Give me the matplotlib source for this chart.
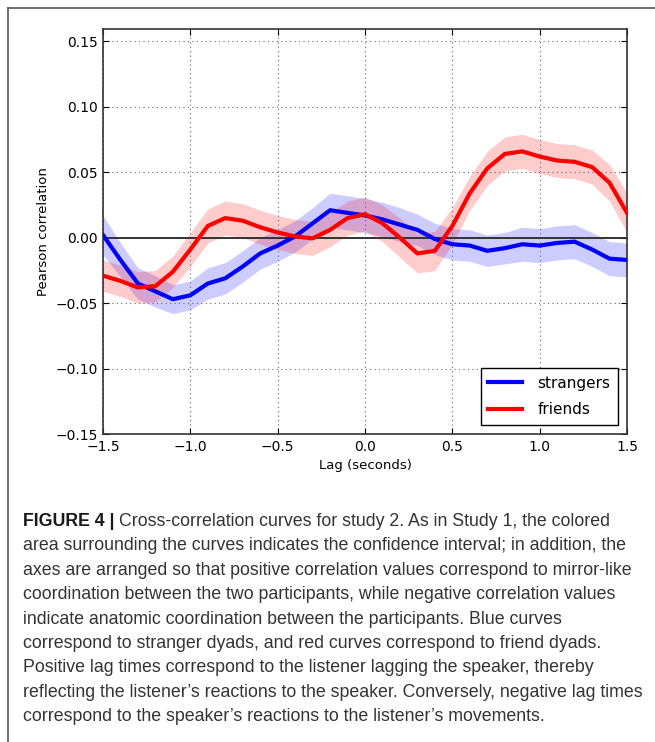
import numpy as np
import matplotlib.pyplot as plt
from matplotlib.lines import Line2D

# lag values (seconds)
lags = np.round(np.arange(-1.5, 1.51, 0.1), 1)

strangers = [0.002, -0.017, -0.035, -0.041, -0.047, -0.044, -0.035, -0.031,
             -0.022, -0.012, -0.006, 0.001, 0.011, 0.021, 0.019, 0.017,
             0.014, 0.010, 0.006, -0.001, -0.005, -0.006, -0.010, -0.008,
             -0.005, -0.006, -0.004, -0.003, -0.009, -0.016, -0.017]
strangers_ci = [0.015, 0.013, 0.012, 0.012, 0.011, 0.011, 0.012, 0.012,
                0.012, 0.012, 0.012, 0.012, 0.012, 0.013, 0.013, 0.013,
                0.013, 0.013, 0.012, 0.012, 0.012, 0.012, 0.012, 0.012,
                0.013, 0.013, 0.013, 0.013, 0.013, 0.013, 0.013]

friends = [-0.029, -0.033, -0.038, -0.037, -0.026, -0.009, 0.009, 0.015,
           0.013, 0.008, 0.004, 0.001, -0.0005, 0.006, 0.015, 0.018,
           0.011, 0.000, -0.012, -0.010, 0.009, 0.034, 0.053, 0.064,
           0.066, 0.062, 0.059, 0.058, 0.054, 0.042, 0.019]
friends_ci = [0.012, 0.012, 0.012, 0.012, 0.012, 0.013, 0.013, 0.013,
              0.013, 0.013, 0.013, 0.013, 0.013, 0.013, 0.013, 0.013,
              0.014, 0.015, 0.015, 0.015, 0.014, 0.013, 0.013, 0.013,
              0.013, 0.013, 0.013, 0.013, 0.013, 0.014, 0.015]

xticks = [-1.5, -1.0, -0.5, 0.0, 0.5, 1.0, 1.5]
yticks = [-0.15, -0.10, -0.05, 0.00, 0.05, 0.10, 0.15]

caption = [
    "Cross-correlation curves for study 2. As in Study 1, the colored",
    "area surrounding the curves indicates the confidence interval; in addition, the",
    "axes are arranged so that positive correlation values correspond to mirror-like",
    "coordination between the two participants, while negative correlation values",
    "indicate anatomic coordination between the participants. Blue curves",
    "correspond to stranger dyads, and red curves correspond to friend dyads.",
    "Positive lag times correspond to the listener lagging the speaker, thereby",
    "reflecting the listener\u2019s reactions to the speaker. Conversely, negative lag times",
    "correspond to the speaker\u2019s reactions to the listener\u2019s movements.",
]


def fmt(v, nd):
    txt = "%.*f" % (nd, abs(v))
    return "\u2212" + txt if v < 0 else txt


W, H = 655, 742
fig = plt.figure(figsize=(W / 100, H / 100), dpi=100)
ax = fig.add_axes([103 / W, 1 - 434 / H, 524 / W, 405 / H])

s = np.array(strangers)
sc = np.array(strangers_ci)
f = np.array(friends)
fc = np.array(friends_ci)

ax.fill_between(lags, s - sc, s + sc, color="blue", alpha=0.2, lw=0)
ax.fill_between(lags, f - fc, f + fc, color="red", alpha=0.2, lw=0)
ax.axhline(0, color="#333333", lw=1.4, zorder=3)
ax.plot(lags, s, color="blue", lw=3, zorder=4)
ax.plot(lags, f, color="red", lw=3, zorder=4)

ax.set_xlim(-1.5, 1.5)
ax.set_ylim(-0.15, 0.1595)
ax.set_xticks(xticks)
ax.set_yticks(yticks)
ax.set_xticklabels([fmt(t, 1) for t in xticks])
ax.set_yticklabels([fmt(t, 2) for t in yticks])
ax.tick_params(direction="in", top=True, right=True, labelsize=10,
               length=4, width=0.8, pad=4)
ax.grid(True, color="#666666", ls=(0, (1, 3)), lw=0.8)
for sp in ax.spines.values():
    sp.set_color("#333333")
    sp.set_linewidth(1.2)

ax.set_xlabel("Lag (seconds)", fontsize=9.5, labelpad=4)
ax.set_ylabel("Pearson correlation", fontsize=9.5, labelpad=4)

handles = [Line2D([], [], color="blue", lw=3), Line2D([], [], color="red", lw=3)]
leg = ax.legend(handles, ["strangers", "friends"], loc="lower right",
                fontsize=11, fancybox=False, framealpha=1,
                edgecolor="black", handlelength=2.2, borderpad=0.5,
                labelspacing=0.75, handletextpad=1.0, borderaxespad=0.6)
leg.get_frame().set_linewidth(1.0)

# outer frame lines
fig.add_artist(Line2D([7.5 / W, 1], [1 - 8 / H, 1 - 8 / H], color="#555555", lw=1.2))
fig.add_artist(Line2D([7.5 / W, 7.5 / W], [0, 1 - 8 / H], color="#555555", lw=1.2))

cap_font = ["Liberation Sans", "DejaVu Sans"]
cap_size = 12.8
y0 = 526
step = 24.4
t = fig.text(23 / W, 1 - y0 / H, "FIGURE 4 | ", fontsize=cap_size, weight="bold",
             family=cap_font, color="#1a1a1a", va="baseline")
fig.canvas.draw()
bb = t.get_window_extent()
fig.text(bb.x1 / W, 1 - y0 / H, caption[0], fontsize=cap_size,
         family=cap_font, color="#333333", va="baseline")
for i, line in enumerate(caption[1:], start=1):
    fig.text(23 / W, 1 - (y0 + i * step) / H, line, fontsize=cap_size,
             family=cap_font, color="#333333", va="baseline")

fig.savefig("out.png", dpi=100)
